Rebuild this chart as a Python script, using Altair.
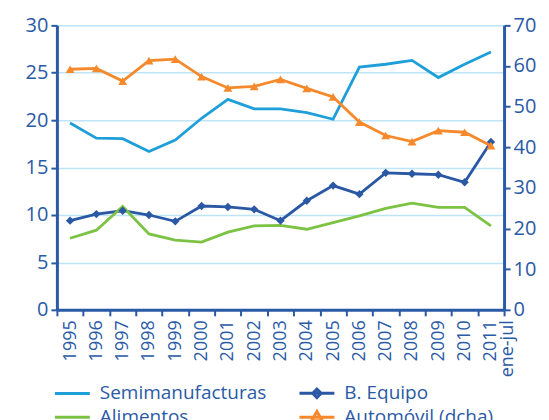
import altair as alt
import pandas as pd

years = ["1995", "1996", "1997", "1998", "1999", "2000", "2001", "2002", "2003",
         "2004", "2005", "2006", "2007", "2008", "2009", "2010", "2011"]
semimanufacturas = [19.7, 18.1, 18.05, 16.7, 17.9, 20.2, 22.2, 21.2, 21.2,
                    20.8, 20.1, 25.6, 25.9, 26.3, 24.5, 25.9, 27.2]
b_equipo = [9.4, 10.1, 10.45, 10.0, 9.33, 10.95, 10.85, 10.6, 9.4,
            11.5, 13.1, 12.2, 14.45, 14.35, 14.25, 13.45, 17.7]
alimentos = [7.55, 8.4, 10.9, 8.0, 7.35, 7.15, 8.2, 8.85, 8.9,
             8.5, 9.2, 9.9, 10.7, 11.25, 10.8, 10.8, 8.85]
automovil = [59.2, 59.4, 56.3, 61.3, 61.7, 57.4, 54.6, 55.0, 56.7,
             54.5, 52.4, 46.2, 42.9, 41.4, 44.1, 43.7, 40.4]

series_names = ["Semimanufacturas", "B. Equipo", "Alimentos", "Automóvil (dcha)"]
series_colors = ["#1f9fd9", "#2a58a5", "#7cc243", "#f5892b"]
legend_shapes = [
    "M-2.5,0H2.5",
    "M-2.5,0H2.5M0,-0.6L0.6,0L0,0.6L-0.6,0Z",
    "M-2.5,0H2.5",
    "M-2.5,0H2.5M0,-0.8L0.75,0.5L-0.75,0.5Z",
]

rows = []
for name, vals in zip(series_names, [semimanufacturas, b_equipo, alimentos, automovil]):
    for y, v in zip(years, vals):
        rows.append({"year": y, "serie": name, "value": v})
df = pd.DataFrame(rows)
left_df = df[df.serie != "Automóvil (dcha)"]
right_df = df[df.serie == "Automóvil (dcha)"]

FONT = "Open Sans"
AX = "#2a5aa6"

xenc = alt.X(
    "year:N", sort=years, bandPosition=0.5,
    scale=alt.Scale(type="band", paddingInner=0, paddingOuter=0),
    axis=alt.Axis(
        title=None, labelAngle=270, labelAlign="right", labelBaseline="middle",
        tickBand="extent", grid=False, labelFontSize=18, labelPadding=4,
        labelExpr="datum.value == '2011' ? ['2011', 'ene-jul'] : datum.value",
        labelLineHeight=17,
    ),
)

yleft = alt.Y(
    "value:Q",
    scale=alt.Scale(domain=[0, 30]),
    axis=alt.Axis(title=None, values=[0, 5, 10, 15, 20, 25, 30], grid=True,
                  gridColor="#bfe4f6", gridWidth=1.5, labelFontSize=20),
)

# stroke scale covers only the three left-axis series (different domain than the legend's)
lines_left = alt.Chart(left_df).mark_line(strokeWidth=2.8).encode(
    x=xenc, y=yleft,
    stroke=alt.Stroke("serie:N", scale=alt.Scale(domain=series_names[:3], range=series_colors[:3]),
                      legend=None),
)
diamonds = alt.Chart(left_df[left_df.serie == "B. Equipo"]).mark_point(
    shape="diamond", filled=True, size=70, opacity=1, color=series_colors[1]
).encode(x=xenc, y=yleft)

# legend-only layer: the automovil values sit above the left scale's domain and are clipped away
legend_layer = alt.Chart(right_df).mark_point(filled=False, strokeWidth=3, clip=True).encode(
    x=xenc, y=yleft,
    color=alt.Color("serie:N", scale=alt.Scale(domain=series_names, range=series_colors),
                    title=None,
                    legend=alt.Legend(orient="none", legendX=6, legendY=359, columns=2,
                                      padding=0, labelLimit=400,
                                      symbolSize=196, symbolStrokeWidth=3, symbolOpacity=1,
                                      labelOffset=18, labelFontSize=19, labelColor=AX,
                                      labelFont=FONT, columnPadding=27, rowPadding=1,
                                      direction="horizontal")),
    shape=alt.Shape("serie:N", scale=alt.Scale(domain=series_names, range=legend_shapes),
                    title=None),
)

yright = alt.Y(
    "value:Q",
    scale=alt.Scale(domain=[0, 70]),
    axis=alt.Axis(title=None, orient="right", values=[0, 10, 20, 30, 40, 50, 60, 70],
                  grid=False, labelFontSize=20),
)
auto_line = alt.Chart(right_df).mark_line(strokeWidth=2.8, color=series_colors[3]).encode(
    x=xenc, y=yright)
auto_pts = alt.Chart(right_df).mark_point(shape="triangle-up", filled=True, size=80,
                                          opacity=1, color=series_colors[3]).encode(
    x=xenc, y=yright)

left = alt.layer(lines_left, diamonds, legend_layer)
right = alt.layer(auto_line, auto_pts)

chart = alt.layer(left, right).resolve_scale(y="independent").properties(
    width=448, height=285, padding={"left": 17, "top": 7, "right": 5, "bottom": 5}
).configure_axis(
    domainColor=AX, domainWidth=3, tickColor=AX, tickWidth=2, tickSize=6,
    labelColor=AX, labelFont=FONT, labelPadding=3,
).configure_view(stroke=None).configure_legend(labelFont=FONT)

chart.save("out.html", embed_options={"renderer": "svg", "actions": False})
